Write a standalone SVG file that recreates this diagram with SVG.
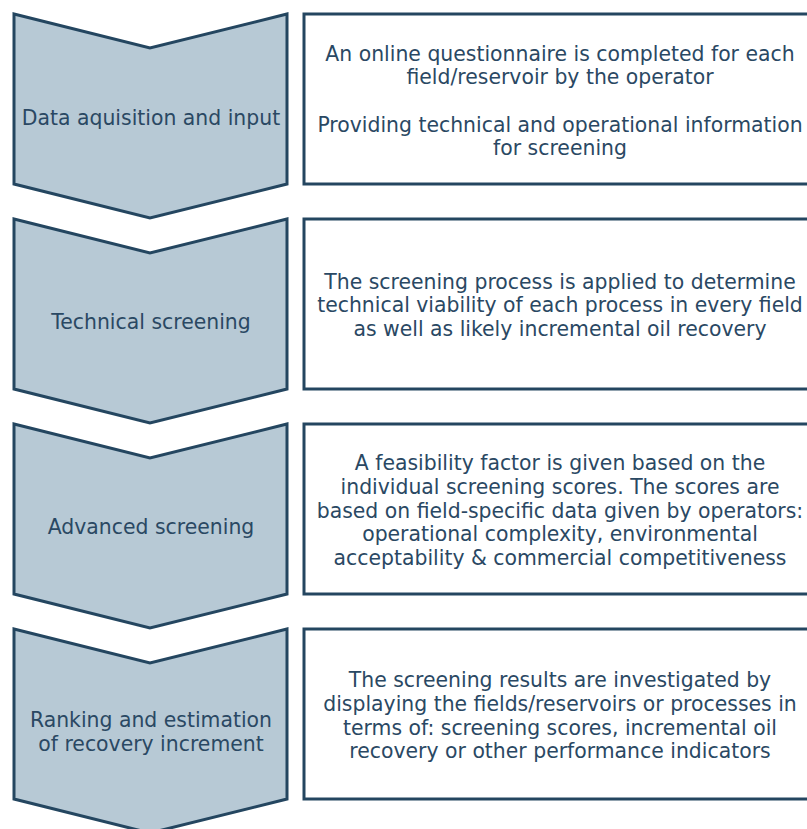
<svg xmlns="http://www.w3.org/2000/svg" width="807" height="829" viewBox="0 0 807 829">
<style>
.chev{fill:#b7c9d5;stroke:#244660;stroke-width:3;stroke-linejoin:miter}
.box{fill:#ffffff;stroke:#244660;stroke-width:3}
text{font-family:"DejaVu Sans",Verdana,sans-serif;font-size:20.4px;fill:#2a4863;text-anchor:middle}
</style>
<rect width="807" height="829" fill="#ffffff"/>
<g id="step1">
<polygon class="chev" points="14,14 150,48 287,14 287,184 150,218 14,184"/>
<text x="151" y="125">Data aquisition and input</text>
</g>
<g id="desc1">
<rect class="box" x="304" y="14" width="520" height="170"/>
<text x="560" y="61">An online questionnaire is completed for each</text>
<text x="560" y="84">field/reservoir by the operator</text>
<text x="560" y="132">Providing technical and operational information</text>
<text x="560" y="155">for screening</text>
</g>
<g id="step2">
<polygon class="chev" points="14,219 150,253 287,219 287,389 150,423 14,389"/>
<text x="151" y="329">Technical screening</text>
</g>
<g id="desc2">
<rect class="box" x="304" y="219" width="520" height="170"/>
<text x="560" y="289">The screening process is applied to determine</text>
<text x="560" y="312">technical viability of each process in every field</text>
<text x="560" y="336">as well as likely incremental oil recovery</text>
</g>
<g id="step3">
<polygon class="chev" points="14,424 150,458 287,424 287,594 150,628 14,594"/>
<text x="151" y="534">Advanced screening</text>
</g>
<g id="desc3">
<rect class="box" x="304" y="424" width="520" height="170"/>
<text x="560" y="470">A feasibility factor is given based on the</text>
<text x="560" y="494">individual screening scores. The scores are</text>
<text x="560" y="518">based on field-specific data given by operators:</text>
<text x="560" y="541">operational complexity, environmental</text>
<text x="560" y="565">acceptability &amp; commercial competitiveness</text>
</g>
<g id="step4">
<polygon class="chev" points="14,629 150,663 287,629 287,799 150,833 14,799"/>
<text x="151" y="727">Ranking and estimation</text>
<text x="151" y="751">of recovery increment</text>
</g>
<g id="desc4">
<rect class="box" x="304" y="629" width="520" height="170"/>
<text x="560" y="687">The screening results are investigated by</text>
<text x="560" y="711">displaying the fields/reservoirs or processes in</text>
<text x="560" y="735">terms of: screening scores, incremental oil</text>
<text x="560" y="758">recovery or other performance indicators</text>
</g>
<g id="connectors"/>
</svg>
